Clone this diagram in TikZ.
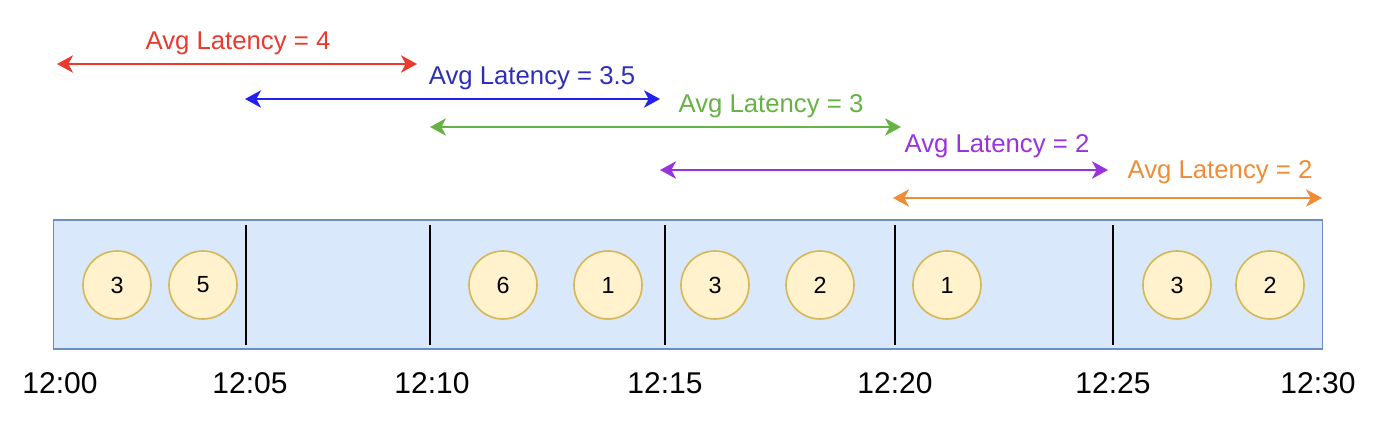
\documentclass[tikz,border=0pt]{standalone}
\usepackage{fontspec}
\setmainfont{Liberation Sans}
\usetikzlibrary{arrows.meta}
\definecolor{spanred}{HTML}{EA3A2E}
\definecolor{spanblue}{HTML}{2222EE}
\definecolor{textblue}{HTML}{2E2EB8}
\definecolor{spangreen}{HTML}{66B245}
\definecolor{spanpurple}{HTML}{9933DD}
\definecolor{spanorange}{HTML}{F08C36}
\definecolor{barfill}{HTML}{DAE8FC}
\definecolor{barline}{HTML}{6C8EBF}
\definecolor{evfill}{HTML}{FFF2CC}
\definecolor{evline}{HTML}{D6B656}

\begin{document}
\begin{tikzpicture}[x=0.75pt,y=-0.75pt,
  span/.style={line width=1.6pt,{Stealth[length=12pt,width=13pt,inset=3.5pt]}-{Stealth[length=12pt,width=13pt,inset=3.5pt]}},
  spanlabel/.style={font=\fontsize{19.3}{22}\selectfont},
  event/.style={circle,draw=evline,fill=evfill,line width=1.2pt,minimum size=51pt,inner sep=0pt,font=\fontsize{17.5}{20}\selectfont},
  timelabel/.style={font=\fontsize{22.5}{26}\selectfont}]
\useasboundingbox (0,0) rectangle (1386,432);

% time bar
\node[draw=barline,fill=barfill,line width=1.1pt,minimum width=952pt,minimum height=97pt,inner sep=0pt] (bar) at (688,284.5) {};

% window borders
\foreach \name/\x in {b05/246,b10/430,b15/665,b20/895,b25/1113} {
  \coordinate (\name t) at (\x,225);
  \coordinate (\name b) at (\x,345);
  \draw[line width=1.5pt] (\name t) -- (\name b);
}

% events
\foreach \name/\x/\v in {e1/117/3,e2/203/5,e3/503/6,e4/608/1,e5/715/3,e6/820/2,e7/947/1,e8/1177/3,e9/1270/2}
  \node[event] (\name) at (\x,285) {\v};

% times
\foreach \name/\x/\t in {t00/60/12:00,t05/250/12:05,t10/432/12:10,t15/665/12:15,t20/895/12:20,t25/1113/12:25,t30/1318/12:30}
  \node[timelabel] (\name) at (\x,383) {\t};

% windows
\coordinate (w1a) at (57,64);   \coordinate (w1b) at (417,64);
\coordinate (w2a) at (245,99);  \coordinate (w2b) at (660,99);
\coordinate (w3a) at (430,127); \coordinate (w3b) at (901,127);
\coordinate (w4a) at (660,170); \coordinate (w4b) at (1108,170);
\coordinate (w5a) at (893,198); \coordinate (w5b) at (1322,198);
\draw[span,spanred] (w1a) -- (w1b);
\draw[span,spanblue] (w2a) -- (w2b);
\draw[span,spangreen] (w3a) -- (w3b);
\draw[span,spanpurple] (w4a) -- (w4b);
\draw[span,spanorange] (w5a) -- (w5b);
\node[spanlabel,text=spanred] (l1) at (238,43) {Avg Latency = 4};
\node[spanlabel,text=textblue] (l2) at (532,78) {Avg Latency = 3.5};
\node[spanlabel,text=spangreen] (l3) at (771,106) {Avg Latency = 3};
\node[spanlabel,text=spanpurple] (l4) at (997,146) {Avg Latency = 2};
\node[spanlabel,text=spanorange] (l5) at (1220,172) {Avg Latency = 2};
\end{tikzpicture}
\end{document}
